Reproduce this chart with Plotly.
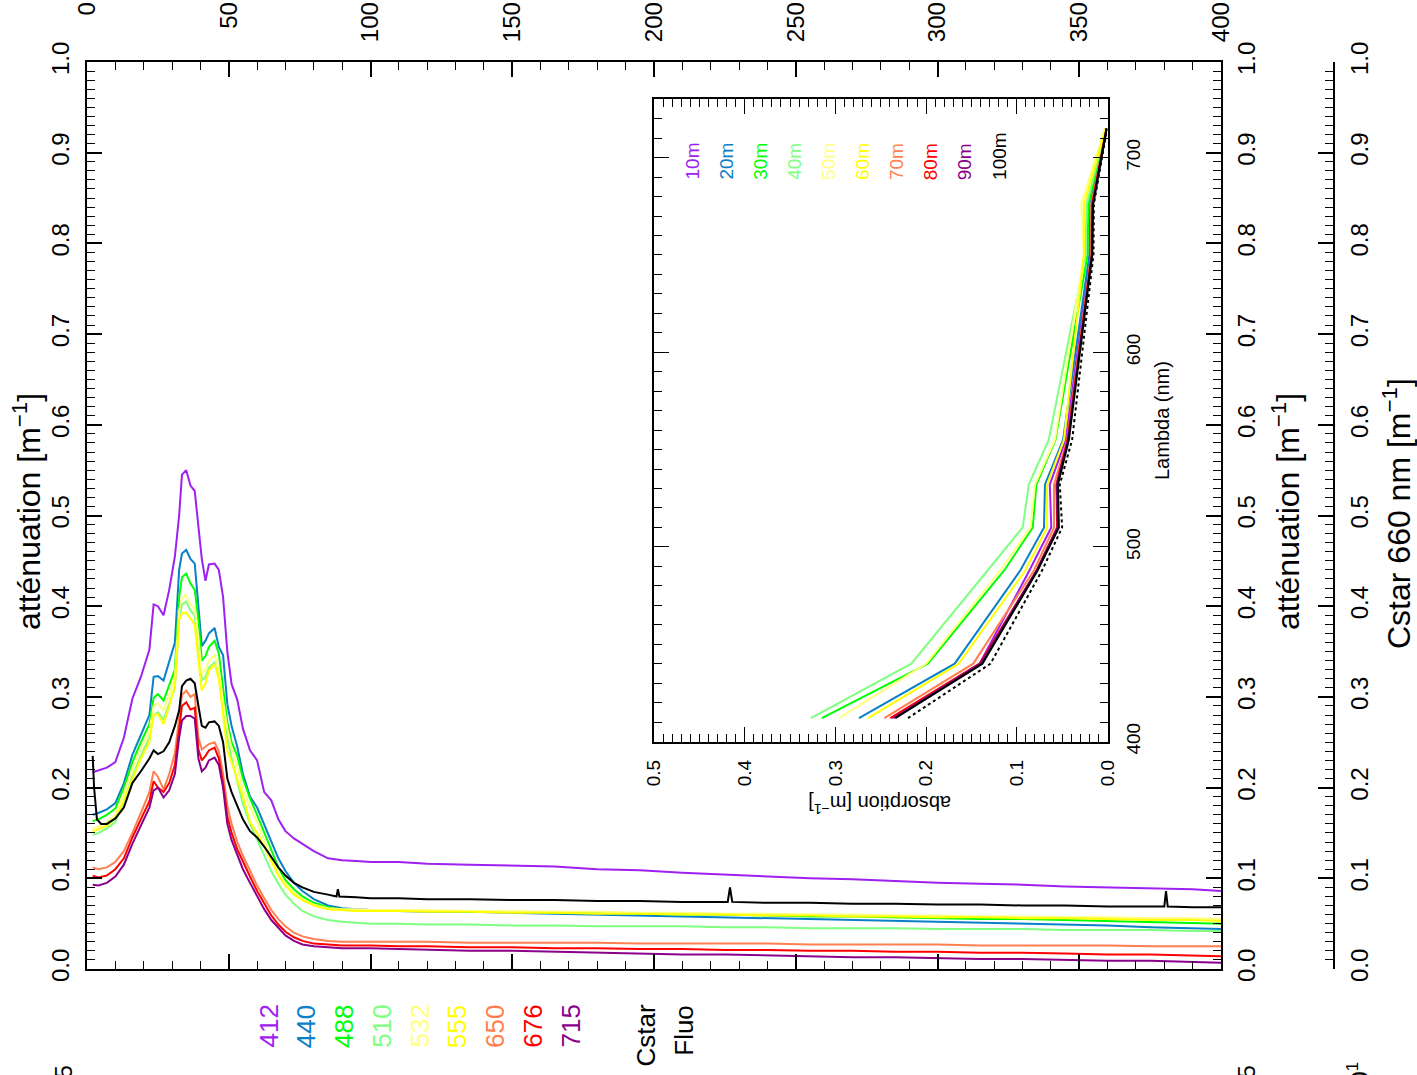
import plotly.graph_objects as go

W, H = 1417, 1075

# ---------------- main profiles (depth in m, attenuation in m^-1) ----------------
depth = [2, 4, 7, 10, 13, 16, 19, 22, 23.5, 25, 27, 29, 31, 32.5, 33.5, 35, 36.5, 38, 39.3, 40.5,
         41.8, 43, 45, 46.5, 48, 49.5, 51, 53, 55, 57.5, 60, 62.5, 65, 67.5, 70, 73, 76, 80, 85, 90,
         95, 100, 110, 120, 135, 150, 165, 180, 195, 210, 225, 240, 255, 270, 285, 300, 315, 330, 345,
         360, 375, 390, 400]

a412 = [0.217, 0.219, 0.222, 0.228, 0.255, 0.298, 0.322, 0.352, 0.402, 0.400, 0.390, 0.418, 0.455, 0.500,
        0.545, 0.550, 0.533, 0.527, 0.490, 0.452, 0.428, 0.446, 0.447, 0.440, 0.410, 0.350, 0.314, 0.297,
        0.265, 0.241, 0.230, 0.195, 0.186, 0.165, 0.152, 0.144, 0.138, 0.130, 0.122, 0.120, 0.119, 0.118,
        0.118, 0.116, 0.115, 0.114, 0.113, 0.110, 0.109, 0.106, 0.104, 0.102, 0.100, 0.099, 0.097, 0.095,
        0.094, 0.093, 0.091, 0.090, 0.089, 0.088, 0.086]
a440 = [0.170, 0.172, 0.176, 0.183, 0.205, 0.236, 0.258, 0.280, 0.322, 0.323, 0.318, 0.338, 0.360, 0.440,
        0.458, 0.462, 0.452, 0.447, 0.400, 0.356, 0.362, 0.370, 0.376, 0.355, 0.346, 0.292, 0.268, 0.245,
        0.215, 0.190, 0.178, 0.160, 0.140, 0.122, 0.108, 0.095, 0.086, 0.077, 0.070, 0.067, 0.066, 0.065,
        0.064, 0.063, 0.063, 0.062, 0.061, 0.060, 0.059, 0.058, 0.057, 0.056, 0.055, 0.054, 0.053, 0.052,
        0.051, 0.050, 0.049, 0.048, 0.046, 0.045, 0.044]
a488 = [0.163, 0.165, 0.170, 0.177, 0.200, 0.228, 0.250, 0.270, 0.299, 0.303, 0.296, 0.312, 0.330, 0.410,
        0.432, 0.436, 0.425, 0.418, 0.385, 0.340, 0.345, 0.355, 0.362, 0.348, 0.310, 0.272, 0.250, 0.235,
        0.210, 0.188, 0.170, 0.150, 0.130, 0.112, 0.098, 0.088, 0.080, 0.073, 0.068, 0.066, 0.065, 0.065,
        0.064, 0.064, 0.063, 0.063, 0.062, 0.062, 0.061, 0.060, 0.060, 0.059, 0.058, 0.058, 0.057, 0.056,
        0.055, 0.055, 0.054, 0.053, 0.052, 0.051, 0.050]
a510 = [0.148, 0.150, 0.155, 0.162, 0.185, 0.212, 0.235, 0.255, 0.280, 0.283, 0.275, 0.292, 0.310, 0.385,
        0.402, 0.405, 0.395, 0.390, 0.355, 0.318, 0.322, 0.332, 0.338, 0.322, 0.290, 0.255, 0.232, 0.208,
        0.182, 0.160, 0.143, 0.125, 0.108, 0.094, 0.082, 0.072, 0.064, 0.058, 0.054, 0.052, 0.051, 0.050,
        0.050, 0.049, 0.049, 0.048, 0.048, 0.047, 0.047, 0.047, 0.046, 0.046, 0.045, 0.045, 0.045, 0.044,
        0.044, 0.044, 0.043, 0.043, 0.043, 0.042, 0.042]
a532 = [0.155, 0.157, 0.162, 0.170, 0.193, 0.220, 0.243, 0.262, 0.290, 0.293, 0.285, 0.302, 0.322, 0.395,
        0.410, 0.412, 0.402, 0.398, 0.365, 0.325, 0.330, 0.340, 0.346, 0.330, 0.295, 0.265, 0.243, 0.222,
        0.198, 0.178, 0.162, 0.142, 0.122, 0.106, 0.094, 0.084, 0.077, 0.071, 0.067, 0.066, 0.066, 0.065,
        0.065, 0.065, 0.064, 0.064, 0.063, 0.063, 0.062, 0.062, 0.061, 0.061, 0.060, 0.060, 0.059, 0.059,
        0.058, 0.058, 0.057, 0.057, 0.056, 0.056, 0.055]
a555 = [0.152, 0.154, 0.158, 0.166, 0.186, 0.210, 0.232, 0.250, 0.280, 0.281, 0.270, 0.290, 0.312, 0.385,
        0.392, 0.393, 0.387, 0.380, 0.340, 0.307, 0.315, 0.329, 0.336, 0.320, 0.280, 0.240, 0.228, 0.210,
        0.190, 0.162, 0.150, 0.135, 0.118, 0.103, 0.092, 0.082, 0.076, 0.070, 0.066, 0.065, 0.064, 0.064,
        0.064, 0.063, 0.063, 0.062, 0.062, 0.061, 0.061, 0.060, 0.060, 0.059, 0.059, 0.058, 0.058, 0.057,
        0.057, 0.056, 0.056, 0.055, 0.054, 0.054, 0.053]
a650 = [0.112, 0.110, 0.112, 0.118, 0.130, 0.150, 0.172, 0.195, 0.218, 0.212, 0.198, 0.215, 0.238, 0.280,
        0.302, 0.307, 0.300, 0.303, 0.255, 0.242, 0.245, 0.248, 0.250, 0.240, 0.215, 0.180, 0.160, 0.140,
        0.125, 0.108, 0.092, 0.078, 0.065, 0.055, 0.047, 0.040, 0.036, 0.033, 0.031, 0.030, 0.030, 0.030,
        0.030, 0.030, 0.029, 0.029, 0.029, 0.029, 0.028, 0.028, 0.028, 0.028, 0.027, 0.027, 0.027, 0.027,
        0.026, 0.026, 0.026, 0.026, 0.025, 0.025, 0.025]
a676 = [0.103, 0.101, 0.103, 0.110, 0.122, 0.145, 0.165, 0.185, 0.207, 0.200, 0.195, 0.205, 0.225, 0.265,
        0.290, 0.294, 0.286, 0.288, 0.242, 0.230, 0.235, 0.241, 0.244, 0.232, 0.205, 0.168, 0.150, 0.132,
        0.118, 0.102, 0.086, 0.072, 0.059, 0.049, 0.041, 0.035, 0.031, 0.028, 0.027, 0.026, 0.026, 0.026,
        0.025, 0.025, 0.024, 0.024, 0.023, 0.023, 0.022, 0.022, 0.021, 0.021, 0.020, 0.020, 0.019, 0.019,
        0.018, 0.018, 0.017, 0.016, 0.016, 0.015, 0.014]
a715 = [0.093, 0.092, 0.095, 0.102, 0.115, 0.138, 0.158, 0.178, 0.197, 0.200, 0.189, 0.197, 0.215, 0.255,
        0.274, 0.279, 0.279, 0.276, 0.232, 0.218, 0.222, 0.230, 0.233, 0.225, 0.200, 0.160, 0.142, 0.125,
        0.110, 0.095, 0.080, 0.066, 0.054, 0.045, 0.037, 0.031, 0.027, 0.025, 0.024, 0.023, 0.023, 0.023,
        0.022, 0.021, 0.020, 0.020, 0.019, 0.018, 0.017, 0.016, 0.016, 0.015, 0.014, 0.013, 0.013, 0.012,
        0.011, 0.011, 0.010, 0.009, 0.009, 0.008, 0.007]

cstar_depth = [2, 2.5, 3.5, 5, 7, 10, 13, 16, 19, 22, 23.5, 25, 27, 29, 31, 32.5, 33.5, 35, 36.5, 38,
               39.3, 40.5, 41.8, 43, 45, 46.5, 48, 49.5, 51, 53, 55, 57.5, 60, 62.5, 65, 67.5, 70, 73,
               76, 80, 85, 88, 88.5, 89, 95, 100, 110, 120, 135, 150, 165, 180, 195, 210, 226, 226.8,
               227.6, 240, 255, 270, 285, 300, 315, 330, 345, 360, 375, 380, 380.6, 381.2, 390, 400]
cstar = [0.235, 0.200, 0.165, 0.160, 0.160, 0.166, 0.178, 0.205, 0.218, 0.232, 0.241, 0.237, 0.240, 0.250,
         0.268, 0.285, 0.312, 0.318, 0.320, 0.315, 0.290, 0.268, 0.266, 0.272, 0.273, 0.268, 0.250, 0.210,
         0.195, 0.180, 0.165, 0.152, 0.145, 0.135, 0.123, 0.112, 0.103, 0.095, 0.090, 0.085, 0.082, 0.080,
         0.088, 0.080, 0.079, 0.078, 0.078, 0.077, 0.077, 0.076, 0.076, 0.075, 0.075, 0.074, 0.074, 0.090,
         0.074, 0.073, 0.073, 0.072, 0.072, 0.071, 0.071, 0.070, 0.070, 0.069, 0.069, 0.069, 0.086, 0.069,
         0.068, 0.068]

wavelength_labels = ["412", "440", "488", "510", "532", "555", "650", "676", "715"]
wl_colors = ["#A020F0", "#0A80C8", "#00FF00", "#80FF80", "#FFFF80", "#FFFF00", "#FF7F50", "#FF0000", "#8B008B"]
extra_labels = ["Cstar", "Fluo"]

# ---------------- inset: absorption spectra by depth ----------------
lam = [412, 440, 488, 510, 532, 555, 650, 676, 715]
inset_labels = ["10m", "20m", "30m", "40m", "50m", "60m", "70m", "80m", "90m", "100m"]
inset_colors = ["#A020F0", "#0A80C8", "#00FF00", "#80FF80", "#FFFF80", "#FFFF00", "#FF7F50", "#FF0000", "#8B008B", "#000000"]
abs_10m = [0.238, 0.141, 0.086, 0.062, 0.0636, 0.046, 0.019, 0.018, 0.002]
abs_20m = [0.274, 0.1685, 0.096, 0.070, 0.069, 0.049, 0.020, 0.019, 0.002]
abs_30m = [0.315, 0.198, 0.1137, 0.0824, 0.0784, 0.0574, 0.022, 0.021, 0.002]
abs_40m = [0.327, 0.2163, 0.132, 0.0935, 0.0868, 0.0648, 0.0243, 0.023, 0.002]
abs_50m = [0.296, 0.200, 0.118, 0.085, 0.080, 0.058, 0.026, 0.029, 0.003]
abs_60m = [0.264, 0.164, 0.0905, 0.0666, 0.0666, 0.048, 0.026, 0.026, 0.002]
abs_70m = [0.246, 0.148, 0.081, 0.059, 0.059, 0.0445, 0.018, 0.018, 0.001]
abs_80m = [0.2395, 0.141, 0.078, 0.0556, 0.0563, 0.0440, 0.0175, 0.017, 0.001]
abs_90m = [0.236, 0.140, 0.078, 0.055, 0.056, 0.0435, 0.017, 0.016, 0.001]
abs_100m = [0.234, 0.138, 0.077, 0.0537, 0.0548, 0.0427, 0.017, 0.016, 0.001]
abs_ref = [0.220, 0.129, 0.072, 0.050, 0.0526, 0.039, 0.0155, 0.015, 0.0005]

depth_ticks = [0, 50, 100, 150, 200, 250, 300, 350, 400]

# ---------------- geometry helpers ----------------
FONT = "Liberation Sans, Arial, Helvetica, sans-serif"
def px(x):
    return x / W
def py(y):
    return 1 - y / H

MX0, MX1, MY0, MY1 = 87, 1221, 62, 969
IX0, IX1, IY0, IY1 = 654, 1107.5, 99.3, 741.5
AX3 = 1334

fig = go.Figure()

series = [a412, a440, a488, a510, a532, a555, a650, a676, a715]
for vals, name, col in zip(series, wavelength_labels, wl_colors):
    fig.add_trace(go.Scatter(x=depth, y=vals, mode="lines", name=name,
                             line=dict(color=col, width=2), xaxis="x", yaxis="y", showlegend=False))
fig.add_trace(go.Scatter(x=cstar_depth, y=cstar, mode="lines", name="Cstar",
                         line=dict(color="black", width=2), xaxis="x", yaxis="y", showlegend=False))
# empty traces so the secondary axes exist
fig.add_trace(go.Scatter(x=[], y=[], xaxis="x", yaxis="y2", showlegend=False))
fig.add_trace(go.Scatter(x=[], y=[], xaxis="x", yaxis="y3", showlegend=False))

inset_series = [abs_10m, abs_20m, abs_30m, abs_40m, abs_50m, abs_60m, abs_70m, abs_80m, abs_90m, abs_100m]
for vals, name, col in zip(inset_series, inset_labels, inset_colors):
    fig.add_trace(go.Scatter(x=vals, y=lam, mode="lines", name=name,
                             line=dict(color=col, width=2.2 if col == "#000000" else 2),
                             xaxis="x2", yaxis="y4", showlegend=False))
fig.add_trace(go.Scatter(x=abs_ref, y=lam, mode="lines", name="ref",
                         line=dict(color="black", width=2, dash="dot"),
                         xaxis="x2", yaxis="y4", showlegend=False))

FIG_SP = "\u2007"
tick_w = max(len(str(t)) for t in depth_ticks)
depth_ticktext = [FIG_SP * (tick_w - len(str(t))) + str(t) for t in depth_ticks]

common = dict(showgrid=False, zeroline=False, showline=True, linecolor="black",
              tickcolor="black", ticks="inside", automargin=False)

att_axis = dict(range=[0, 1], dtick=0.1, tick0=0, tickformat=".1f", ticklen=15, tickwidth=1.5,
                tickangle=-90, linewidth=2, tickfont=dict(size=24, color="black", family=FONT),
                minor=dict(ticks="inside", ticklen=8, tickwidth=1.2, dtick=0.01, tickcolor="black"),
                **common)

fig.update_layout(
    width=W, height=H, margin=dict(l=0, r=0, t=0, b=0, autoexpand=False),
    paper_bgcolor="white", plot_bgcolor="rgba(0,0,0,0)",
    font=dict(family=FONT, color="black"),
    showlegend=False,
    xaxis=dict(domain=[px(MX0), px(MX1)], range=[0, 400], side="top", anchor="y",
               tickmode="array", tickvals=depth_ticks, ticktext=depth_ticktext,
               tickangle=-90, ticklen=15, tickwidth=1.5, linewidth=2, mirror="ticks",
               tickfont=dict(size=24, color="black", family=FONT), ticklabelstandoff=13,
               minor=dict(ticks="inside", ticklen=8, tickwidth=1.2, tickmode="linear", tick0=0, dtick=10,
                          tickcolor="black"),
               **common),
    yaxis=dict(domain=[py(MY1), py(MY0)], anchor="x", side="left", mirror="ticks",
               ticklabelstandoff=6, **att_axis),
    yaxis2=dict(overlaying="y", anchor="x", side="right", ticklabelstandoff=3, **att_axis),
    yaxis3=dict(overlaying="y", anchor="free", position=px(AX3), side="right", ticklabelstandoff=4,
                **att_axis),
    xaxis2=dict(domain=[px(IX0), px(IX1)], anchor="y4", range=[0.5, 0], side="bottom",
                dtick=0.1, tick0=0, tickformat=".1f", ticklen=15, tickwidth=1.3, tickangle=-90,
                linewidth=1.5, mirror="ticks", tickfont=dict(size=19, color="black", family=FONT),
                minor=dict(ticks="inside", ticklen=8, tickwidth=1, dtick=0.01, tickcolor="black"),
                ticklabelstandoff=9, **common),
    yaxis4=dict(domain=[py(IY1), py(IY0)], anchor="x2", range=[400, 730], side="right",
                dtick=100, tick0=400, ticklen=15, tickwidth=1.3, tickangle=-90,
                linewidth=1.5, mirror="ticks", tickfont=dict(size=19, color="black", family=FONT),
                minor=dict(ticks="inside", ticklen=8, tickwidth=1, dtick=10, tickcolor="black"),
                ticklabelstandoff=8, **common),
)

ann = []
# axis titles
ann.append(dict(text="atténuation [m<sup>−1</sup>]", x=px(27), y=py(512), textangle=-90,
                font=dict(size=32)))
ann.append(dict(text="atténuation [m<sup>−1</sup>]", x=px(1286), y=py(512), textangle=-90,
                font=dict(size=32)))
ann.append(dict(text="Cstar 660 nm [m<sup>−1</sup>]", x=px(1397), y=py(514), textangle=-90,
                font=dict(size=32)))
ann.append(dict(text="absorption [m<sup>−1</sup>]", x=px(880), y=py(805), textangle=180,
                font=dict(size=20)))
ann.append(dict(text="Lambda (nm)", x=px(1162), y=py(421), textangle=-90, font=dict(size=20)))

# bottom legend text (wavelengths, then a gap, then Cstar / Fluo)
leg_cols = wl_colors + ["black", "black"]
leg_txt = wavelength_labels + extra_labels
for i, (t, c) in enumerate(zip(leg_txt, leg_cols)):
    slot = i if i < len(wavelength_labels) else i + 1
    ann.append(dict(text=t, x=px(268 + 37.75 * slot), y=py(1003), textangle=-90,
                    yanchor="top", font=dict(size=26, color=c)))

# inset legend
for i, (t, c) in enumerate(zip(inset_labels, inset_colors)):
    ann.append(dict(text=t, x=px(692 + 34.1 * i), y=py(182), textangle=-90,
                    yanchor="bottom", font=dict(size=19, color=c)))

# labels of the next panel, cut by the page edge
for t, xx, yy in [("0.5", 63, 1064), ("0.5", 1246, 1064), ("10<sup>1</sup>", 1358, 1060)]:
    ann.append(dict(text=t, x=px(xx), y=py(yy), textangle=-90, yanchor="top",
                    font=dict(size=24)))

for a in ann:
    a.setdefault("xref", "paper")
    a.setdefault("yref", "paper")
    a.setdefault("showarrow", False)
    a.setdefault("xanchor", "center")
    a.setdefault("yanchor", "middle")
fig.update_layout(annotations=ann)

fig.write_html("out.html", config={"displayModeBar": False},
               post_script="document.body.style.margin='0px';document.body.style.overflow='hidden';")
